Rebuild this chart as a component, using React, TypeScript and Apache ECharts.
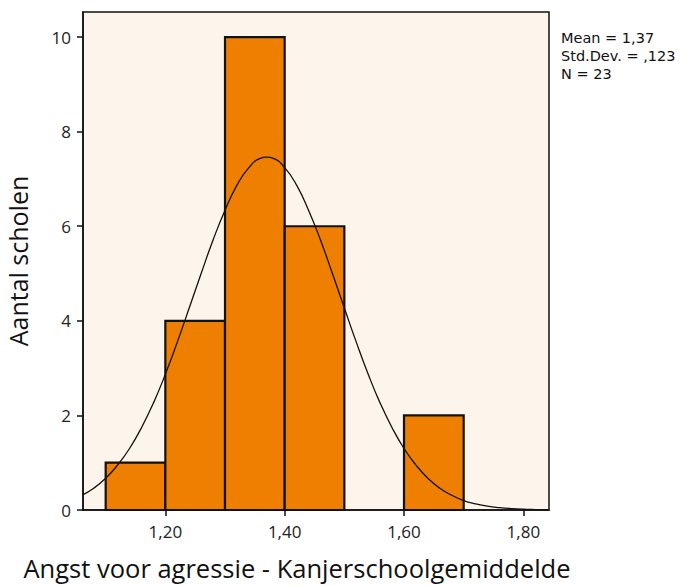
import React, { useEffect, useRef } from "react";
import * as echarts from "echarts";

const binStarts = [1.1, 1.2, 1.3, 1.4, 1.6];
const binEnds = [1.2, 1.3, 1.4, 1.5, 1.7];
const binCounts = [1, 4, 10, 6, 2];

const curveX = [1.06, 1.08, 1.1, 1.12, 1.14, 1.16, 1.18, 1.2, 1.22, 1.24, 1.26, 1.28, 1.3, 1.32, 1.34, 1.36, 1.37, 1.38, 1.4, 1.42, 1.44, 1.46, 1.48, 1.5, 1.52, 1.54, 1.56, 1.58, 1.6, 1.62, 1.64, 1.66, 1.68, 1.7, 1.72, 1.74, 1.76, 1.78, 1.8, 1.82, 1.84];
const curveY = [0.31, 0.46, 0.67, 0.95, 1.3, 1.74, 2.26, 2.87, 3.55, 4.27, 5.0, 5.71, 6.34, 6.87, 7.24, 7.44, 7.46, 7.44, 7.24, 6.87, 6.34, 5.71, 5.0, 4.27, 3.55, 2.87, 2.26, 1.74, 1.3, 0.95, 0.67, 0.46, 0.31, 0.2, 0.13, 0.08, 0.05, 0.03, 0.017, 0.01, 0.005];

const xTicks = [1.2, 1.4, 1.6, 1.8];
const yTicks = [0, 2, 4, 6, 8, 10];
const statLines = ["Mean = 1,37", "Std.Dev. = ,123", "N = 23"];
const xTitle = "Angst voor agressie - Kanjerschoolgemiddelde";
const yTitle = "Aantal scholen";

const FONT = "'Open Sans', 'Noto Sans', sans-serif";
const STAT_FONT = "'DejaVu Sans', 'Open Sans', sans-serif";

export default function App() {
  const ref = useRef<HTMLDivElement>(null);
  useEffect(() => {
    if (!ref.current) return;
    const chart = echarts.init(ref.current, null, { renderer: "svg" });
    const fmt = (v: number) => v.toFixed(2).replace(".", ",");
    chart.setOption({
      animation: false,
      backgroundColor: "#ffffff",
      grid: {
        left: 83,
        right: 137,
        top: 12,
        bottom: 76,
        outerBoundsMode: "none",
        containLabel: false,
        show: true,
        backgroundColor: "#fdf5eb",
        borderColor: "#111",
        borderWidth: 1.5,
      },
      xAxis: {
        type: "value",
        min: 1.062,
        max: 1.843,
        splitLine: { show: false },
        axisLine: { show: true, onZero: false, lineStyle: { color: "#111", width: 1.5 } },
        axisTick: {
          show: true,
          length: 6,
          lineStyle: { color: "#111", width: 1.5 },
          customValues: xTicks,
        },
        axisLabel: {
          fontFamily: FONT,
          fontSize: 17,
          color: "#222",
          margin: 13,
          customValues: xTicks,
          formatter: (v: number) => fmt(v),
        },
      },
      yAxis: {
        type: "value",
        min: 0,
        max: 10.53,
        name: yTitle,
        nameLocation: "middle",
        nameGap: 53,
        nameTextStyle: { fontFamily: FONT, fontSize: 25, color: "#111" },
        splitLine: { show: false },
        axisLine: { show: true, lineStyle: { color: "#111", width: 1.5 } },
        axisTick: {
          show: true,
          length: 6,
          lineStyle: { color: "#111", width: 1.5 },
          customValues: yTicks,
        },
        axisLabel: {
          fontFamily: FONT,
          fontSize: 17,
          color: "#222",
          margin: 12,
          customValues: yTicks,
        },
      },
      graphic: [
        ...statLines.map((t, i) => ({
          type: "text",
          x: 561,
          y: 38 + i * 18,
          style: {
            text: t,
            fontFamily: STAT_FONT,
            fontSize: 14.5,
            lineHeight: 17,
            fill: "#111",
            verticalAlign: "middle",
          },
        })),
        {
          type: "text",
          x: 297,
          y: 568,
          style: {
            text: xTitle,
            fontFamily: FONT,
            fontSize: 25.5,
            lineHeight: 26,
            fill: "#111",
            align: "center",
            verticalAlign: "middle",
          },
        },
      ],
      series: [
        {
          type: "custom",
          data: binCounts.map((c, i) => [binStarts[i], binEnds[i], c]),
          renderItem: (params: any, api: any) => {
            const p0 = api.coord([api.value(0), 0]);
            const p1 = api.coord([api.value(1), api.value(2)]);
            return {
              type: "rect",
              shape: { x: p0[0], y: p1[1], width: p1[0] - p0[0], height: p0[1] - p1[1] },
              style: { fill: "#ee7f00", stroke: "#111", lineWidth: 2.2 },
            };
          },
          z: 2,
        },
        {
          type: "line",
          data: curveX.map((x, i) => [x, curveY[i]]),
          smooth: true,
          showSymbol: false,
          lineStyle: { color: "#111", width: 1.3 },
          z: 3,
        },
      ],
    });
    return () => chart.dispose();
  }, []);
  return (
    <div
      ref={ref}
      style={{ position: "fixed", left: 0, top: 0, width: 686, height: 586 }}
    />
  );
}
